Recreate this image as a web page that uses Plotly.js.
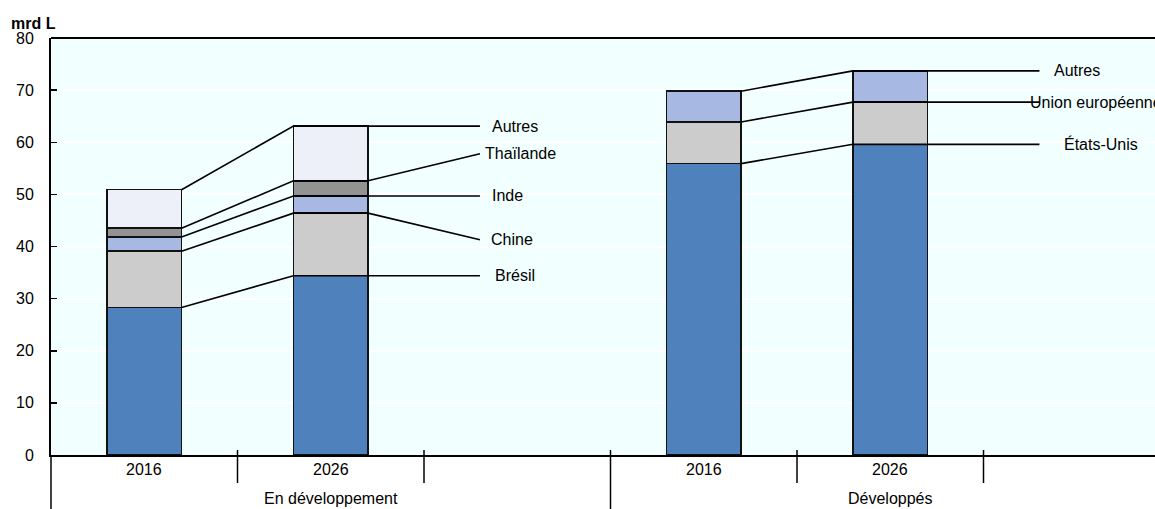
<!DOCTYPE html>
<html>
<head>
<meta charset="utf-8">
<script src="https://cdn.plot.ly/plotly-3.0.1.min.js"></script>
<style>html,body{margin:0;padding:0;background:#fff;}#chart{width:1155px;height:509px;}</style>
</head>
<body>
<div id="chart"></div>
<script>
// ---- data ----
const groups = ["En développement", "Développés"];
const years = ["2016", "2026"];
const unitLabel = "mrd L";

const devNames = ["Brésil", "Chine", "Inde", "Thaïlande", "Autres"];
const devBresil = [28.3, 34.4];
const devChine = [10.8, 12.0];
const devInde = [2.7, 3.3];
const devThailande = [1.7, 2.9];
const devAutres = [7.4, 10.5];

const dvdNames = ["États-Unis", "Union européenne", "Autres"];
const dvdEtatsUnis = [55.9, 59.6];
const dvdUE = [8.0, 8.1];
const dvdAutres = [5.9, 6.0];

const yTicks = [0, 10, 20, 30, 40, 50, 60, 70, 80];

// ---- style / layout config ----
const devColors = ["#4F81BD", "#CCCCCC", "#A7B9E3", "#939393", "#EDF0F8"];
const dvdColors = ["#4F81BD", "#CCCCCC", "#A7B9E3"];
// label vertical offsets (value units) and horizontal positions (category units past 2026 bar)
const devLabelDy = [0, -5.1, 0, 5.2, 0];
const devLabelDx = [0.99, 0.97, 0.95, 1.02, 0.99];
const devLabelAnchor = ["center", "center", "center", "center", "center"];
const dvdLabelDy = [0, 0, 0];
const dvdLabelDx = [1.13, 0.74, 1.0];
const dvdLabelAnchor = ["center", "left", "center"];

const FONT = "'Liberation Sans', Arial, sans-serif";
const FS = 16;
const BAR_W = 0.4;
const SLOT = 3; // slots per group (2 years + 1 empty)

const traces = [];
const shapes = [];
const annotations = [];

function addGroup(gi, names, series, colors, dy, dx, anchors) {
  const xs = years.map((_, yi) => gi * SLOT + yi);
  const cum = [0, 0];
  series.forEach((vals, si) => {
    traces.push({
      type: "bar", x: xs, y: vals, width: BAR_W,
      marker: { color: colors[si], line: { color: "#111", width: 1.6 } },
      name: names[si], showlegend: false, hoverinfo: "y+name"
    });
    const tops = vals.map((v, i) => cum[i] + v);
    cum[0] = tops[0]; cum[1] = tops[1];
    const lblY = tops[1] + dy[si];
    const endX = xs[1] + 0.8;
    traces.push({
      type: "scatter", mode: "lines", showlegend: false, hoverinfo: "skip",
      x: [xs[0] + BAR_W / 2, xs[1] - BAR_W / 2, xs[1] + BAR_W / 2, endX],
      y: [tops[0], tops[1], tops[1], lblY],
      line: { color: "#000", width: 1.6 }
    });
    annotations.push({
      x: xs[1] + dx[si], y: lblY,
      xref: "x", yref: "y", text: names[si], showarrow: false,
      xanchor: anchors[si], yanchor: "middle",
      font: { family: FONT, size: FS, color: "#000" }
    });
  });
  xs.forEach((x, yi) => {
    annotations.push({
      x: x, y: 0, xref: "x", yref: "paper", yshift: -14, text: years[yi],
      showarrow: false, xanchor: "center", yanchor: "middle",
      font: { family: FONT, size: FS, color: "#000" }
    });
  });
  annotations.push({
    x: gi * SLOT + (SLOT - 1) / 2, y: 0, xref: "x", yref: "paper", yshift: -43,
    text: groups[gi], showarrow: false, xanchor: "center", yanchor: "middle",
    font: { family: FONT, size: FS, color: "#000" }
  });
  for (let k = 0; k < SLOT - 1; k++) {
    const tx = gi * SLOT + k + 0.5;
    shapes.push({ type: "line", xref: "x", yref: "paper", x0: tx, x1: tx,
      y0: 5 / 417, y1: -28 / 417, line: { color: "#000", width: 1.5 } });
  }
  if (gi > 0) {
    const tx = gi * SLOT - 0.5;
    shapes.push({ type: "line", xref: "x", yref: "paper", x0: tx, x1: tx,
      y0: 5 / 417, y1: -60 / 417, line: { color: "#000", width: 1.5 } });
  }
}

addGroup(0, devNames, [devBresil, devChine, devInde, devThailande, devAutres], devColors, devLabelDy, devLabelDx, devLabelAnchor);
addGroup(1, dvdNames, [dvdEtatsUnis, dvdUE, dvdAutres], dvdColors, dvdLabelDy, dvdLabelDx, dvdLabelAnchor);

shapes.push({ type: "line", xref: "paper", yref: "paper", x0: 0, x1: 0,
  y0: 0, y1: -60 / 417, line: { color: "#000", width: 1.5 } });
shapes.push({ type: "line", xref: "paper", yref: "paper", x0: 0, x1: 1,
  y0: 1, y1: 1, line: { color: "#000", width: 2 } });

annotations.push({
  x: 0, y: 1, xref: "paper", yref: "paper", xshift: -42, yshift: 15,
  xanchor: "left", yanchor: "middle", text: "<b>" + unitLabel + "</b>",
  showarrow: false, font: { family: FONT, size: FS, color: "#000" }
});

const layout = {
  width: 1155, height: 509,
  margin: { l: 51, r: 0, t: 38, b: 54 },
  paper_bgcolor: "#FFFFFF",
  plot_bgcolor: "#F2FFFF",
  barmode: "stack",
  showlegend: false,
  font: { family: FONT, size: FS, color: "#000" },
  xaxis: {
    range: [-0.5, -0.5 + 1104 / 186.5],
    showticklabels: false, ticks: "", showgrid: false, zeroline: false,
    showline: true, linecolor: "#000", linewidth: 2, fixedrange: true
  },
  yaxis: {
    range: [0, 80], tickvals: yTicks, ticktext: yTicks.map(String),
    ticks: "inside", ticklen: 6, tickwidth: 1.5, tickcolor: "#000",
    ticklabelstandoff: 12,
    showgrid: true, gridcolor: "#FFFFFF", gridwidth: 2,
    zeroline: false, showline: true, linecolor: "#000", linewidth: 2,
    tickfont: { family: FONT, size: FS, color: "#000" }, fixedrange: true
  },
  shapes: shapes,
  annotations: annotations
};

Plotly.newPlot("chart", traces, layout, { displayModeBar: false, staticPlot: true });
</script>
</body>
</html>
